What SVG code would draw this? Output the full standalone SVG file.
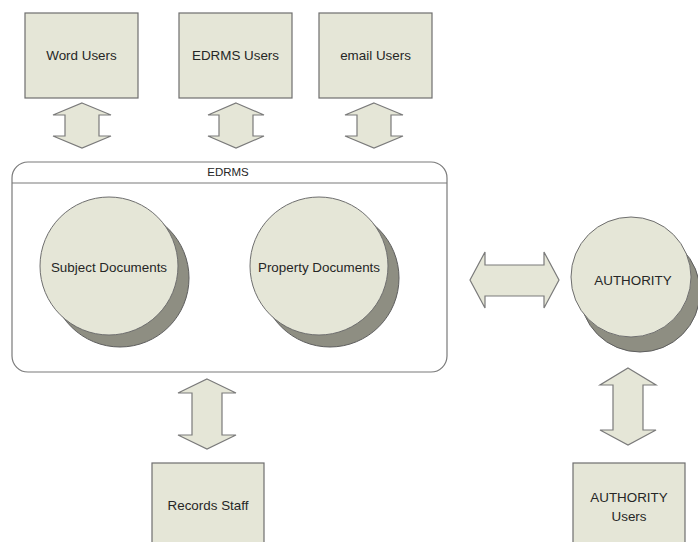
<svg xmlns="http://www.w3.org/2000/svg" width="698" height="542" viewBox="0 0 698 542">
<style>
.box{fill:#e5e6d7;stroke:#6e6e6e;stroke-width:1.2}
.circ{fill:#e5e6d7;stroke:#6e6e6e;stroke-width:1}
.shadow{fill:#8e8e82;stroke:#5e5e5e;stroke-width:1}
.arrow{fill:#e5e6d7;stroke:#7a7a7a;stroke-width:1.2;stroke-linejoin:miter}
.cont{fill:#ffffff;stroke:#7a7a7a;stroke-width:1.2}
text{font-family:"Liberation Sans",Arial,sans-serif;font-size:13.4px;fill:#262626;text-anchor:middle;dominant-baseline:central}
.small{font-size:11.5px}
</style>
<rect width="698" height="542" fill="#ffffff"/>
<g id="edrms">
<rect class="cont" x="12" y="162" width="435" height="210" rx="16" ry="16"/>
<line x1="12" y1="183" x2="447" y2="183" stroke="#7a7a7a" stroke-width="1.2"/>
<text class="small" x="228" y="172">EDRMS</text>
</g>
<g id="word-users">
<rect class="box" x="25" y="13" width="113" height="85"/>
<text x="81.5" y="55">Word Users</text>
</g>
<g id="edrms-users">
<rect class="box" x="179" y="13" width="113" height="85"/>
<text x="235.5" y="55">EDRMS Users</text>
</g>
<g id="email-users">
<rect class="box" x="319" y="13" width="113" height="85"/>
<text x="375.5" y="55">email Users</text>
</g>
<g id="subject-documents">
<circle class="shadow" cx="120" cy="278" r="69"/>
<circle class="circ" cx="109" cy="266" r="69"/>
<text x="109" y="267">Subject Documents</text>
</g>
<g id="property-documents">
<circle class="shadow" cx="330" cy="278" r="69"/>
<circle class="circ" cx="319" cy="266" r="69"/>
<text x="319" y="267">Property Documents</text>
</g>
<g id="authority">
<circle class="shadow" cx="640" cy="292" r="60"/>
<circle class="circ" cx="631" cy="277" r="60"/>
<text x="633" y="280">AUTHORITY</text>
</g>
<g id="records-staff">
<rect class="box" x="152" y="463" width="112" height="90"/>
<text x="208" y="505">Records Staff</text>
</g>
<g id="authority-users">
<rect class="box" x="573" y="463" width="112" height="90"/>
<text x="629" y="497">AUTHORITY</text>
<text x="629" y="516">Users</text>
</g>
<g id="connectors">
<path class="arrow" d="M82,103 L111,115 L99,115 L99,136 L111,136 L82,148 L53,136 L65,136 L65,115 L53,115 Z"/>
<path class="arrow" d="M236,103 L264,115 L253,115 L253,136 L264,136 L236,148 L208,136 L219,136 L219,115 L208,115 Z"/>
<path class="arrow" d="M374,103 L403,115 L391,115 L391,136 L403,136 L374,148 L345,136 L357,136 L357,115 L345,115 Z"/>
<path class="arrow" d="M207,379 L236,393 L222,393 L222,435 L236,435 L207,449 L178,435 L192,435 L192,393 L178,393 Z"/>
<path class="arrow" d="M628,368 L656,385 L643,385 L643,430 L656,430 L628,445 L600,430 L613,430 L613,385 L600,385 Z"/>
<path class="arrow" d="M470,280 L485,252 L485,265 L544,265 L544,252 L559,280 L544,308 L544,296 L485,296 L485,308 Z"/>
</g>
</svg>
